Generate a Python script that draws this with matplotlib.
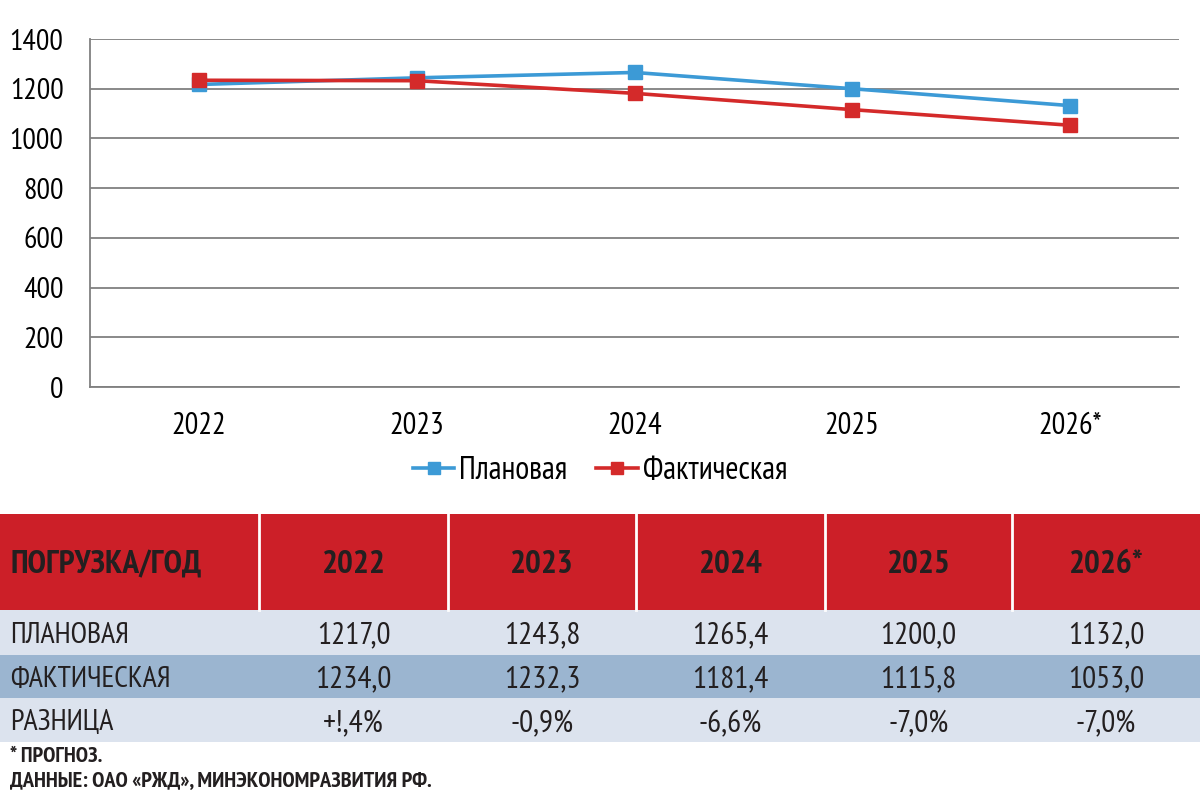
import matplotlib
matplotlib.use("Agg")
import matplotlib.pyplot as plt
from matplotlib.patches import Rectangle
from matplotlib.lines import Line2D
from matplotlib import font_manager as fm

years = ["2022", "2023", "2024", "2025", "2026*"]
plan = [1217.0, 1243.8, 1265.4, 1200.0, 1132.0]
fact = [1234.0, 1232.3, 1181.4, 1115.8, 1053.0]
diff_labels = ["+!,4%", "-0,9%", "-6,6%", "-7,0%", "-7,0%"]
yticks = [0, 200, 400, 600, 800, 1000, 1200, 1400]
series_names = ["Плановая", "Фактическая"]
row_names = ["ПЛАНОВАЯ", "ФАКТИЧЕСКАЯ", "РАЗНИЦА"]
header_first = "ПОГРУЗКА/ГОД"
note1 = "* ПРОГНОЗ."
note2 = "ДАННЫЕ: ОАО «РЖД», МИНЭКОНОМРАЗВИТИЯ РФ."

def fmt(v):
    return f"{v:.1f}".replace(".", ",")

available = {f.name for f in fm.fontManager.ttflist}
prefs = ["Liberation Sans Narrow", "PT Sans Narrow", "Roboto Condensed",
         "Fira Sans Condensed", "IBM Plex Sans Condensed", "Open Sans Condensed"]
chosen = [p for p in prefs if p in available][:1]
NARROW = chosen + ["Liberation Sans", "DejaVu Sans"]

BLUE = "#3c9ad6"
RED = "#d42a2a"
HEAD_RED = "#cc1f28"
ROW_LIGHT = "#dce3ee"
ROW_DARK = "#9bb5d0"
TXT = "#231f20"
GRID = "#808080"

fig = plt.figure(figsize=(12, 8), dpi=100)
W, H = 1200, 800

# ---- line chart ----
ax = fig.add_axes([90 / W, 1 - 387 / H, (1179 - 90) / W, (387 - 39) / H])
x = list(range(len(years)))
ax.plot(x, plan, color=BLUE, lw=2.6, marker="s", ms=10.5, zorder=3)
ax.plot(x, fact, color=RED, lw=2.6, marker="s", ms=10.5, zorder=4)
ax.set_xlim(-0.5, len(years) - 0.5)
ax.set_ylim(0, 1400)
ax.set_yticks(yticks)
ax.set_yticklabels([str(t) for t in yticks], family=NARROW, fontsize=21.5)
ax.set_xticks(x)
ax.set_xticklabels(years, family=NARROW, fontsize=22)
ax.tick_params(length=0)
ax.tick_params(axis="x", pad=18)
ax.tick_params(axis="y", pad=19)
ax.grid(axis="y", color=GRID, lw=1.3)
ax.set_axisbelow(True)
for s in ["top", "right"]:
    ax.spines[s].set_visible(False)
for s in ["left", "bottom"]:
    ax.spines[s].set_color(GRID)
    ax.spines[s].set_linewidth(1.3)

handles = [Line2D([], [], color=BLUE, lw=2.6, marker="s", ms=9),
           Line2D([], [], color=RED, lw=2.6, marker="s", ms=9)]
fig.legend(handles, series_names, loc="center", bbox_to_anchor=(0.5, 1 - 471 / H),
           ncol=2, frameon=False, prop={"family": NARROW, "size": 23},
           handlelength=1.3, handletextpad=0.15, columnspacing=0.9)

# ---- table ----
tax = fig.add_axes([0, 0, 1, 1])
tax.set_xlim(0, W)
tax.set_ylim(H, 0)
tax.axis("off")

col_edges = [0, 259, 448, 636, 825, 1012, 1200]
head_top, head_bot = 514, 610
row_edges = [610, 655, 698, 742]

tax.add_patch(Rectangle((0, head_top), W, head_bot - head_top, color=HEAD_RED, lw=0))
for ce in col_edges[1:-1]:
    tax.plot([ce, ce], [head_top, head_bot], color="white", lw=2)
row_colors = [ROW_LIGHT, ROW_DARK, ROW_LIGHT]
for i, c in enumerate(row_colors):
    tax.add_patch(Rectangle((0, row_edges[i]), W, row_edges[i + 1] - row_edges[i], color=c, lw=0))

hy = (head_top + head_bot) / 2 + 3
tax.text(10, hy, header_first, family=NARROW, fontsize=24, weight="bold",
         color=TXT, ha="left", va="center")
for j, yl in enumerate(years):
    cx = (col_edges[j + 1] + col_edges[j + 2]) / 2
    tax.text(cx, hy, yl, family=NARROW, fontsize=24, weight="bold",
             color=TXT, ha="center", va="center")

rows = [[fmt(v) for v in plan], [fmt(v) for v in fact], diff_labels]
for i, (name, vals) in enumerate(zip(row_names, rows)):
    ry = (row_edges[i] + row_edges[i + 1]) / 2 + 3
    tax.text(10, ry, name, family=NARROW, fontsize=21.5, color=TXT, ha="left", va="center")
    for j, v in enumerate(vals):
        cx = (col_edges[j + 1] + col_edges[j + 2]) / 2
        tax.text(cx, ry, v, family=NARROW, fontsize=22.5, color=TXT, ha="center", va="center")

tax.text(10, 757, note1, family=NARROW, fontsize=16, weight="bold", color=TXT,
         ha="left", va="center")
tax.text(10, 781, note2, family=NARROW, fontsize=16, weight="bold", color=TXT,
         ha="left", va="center")

fig.savefig("out.png", dpi=100, facecolor="white")
